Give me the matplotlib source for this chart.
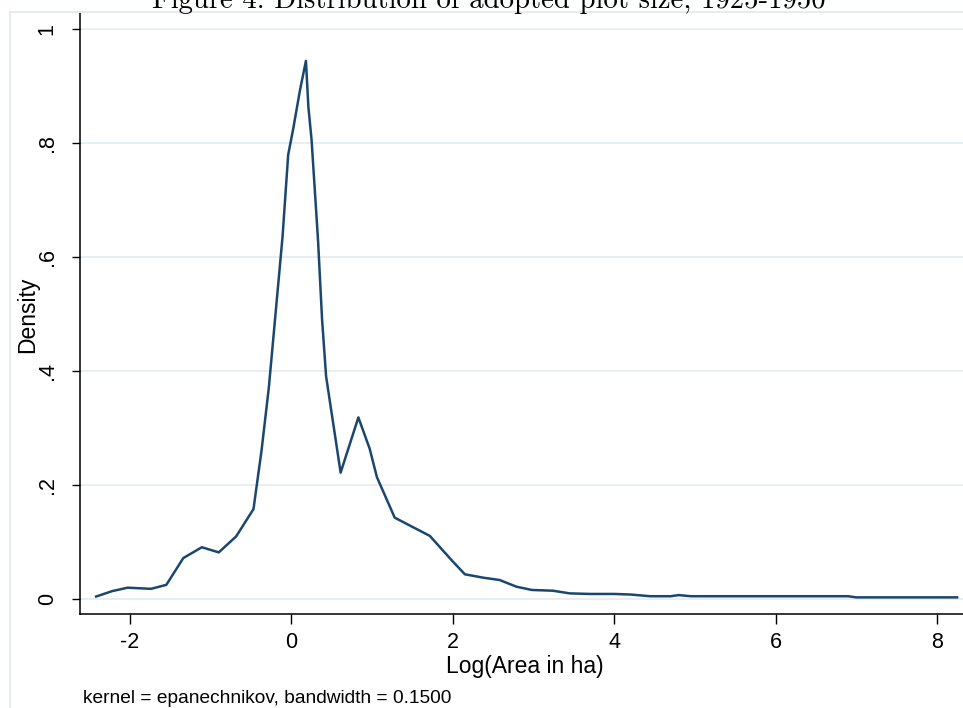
import numpy as np
import matplotlib.pyplot as plt
from matplotlib.lines import Line2D

# kernel density estimate
log_area = [-2.42, -2.22, -2.03, -1.74, -1.55, -1.34, -1.11, -0.90, -0.685, -0.47,
            -0.37, -0.28, -0.11, -0.04, 0.024, 0.107, 0.18, 0.21, 0.25, 0.33,
            0.38, 0.43, 0.61, 0.83, 0.97, 1.06, 1.28, 1.51, 1.715, 2.0,
            2.15, 2.38, 2.58, 2.79, 2.98, 3.24, 3.45, 3.7, 4.0, 4.2,
            4.45, 4.7, 4.8, 4.95, 5.5, 6.0, 6.5, 6.9, 7.0, 7.5,
            8.0, 8.25]
density = [0.0035, 0.013, 0.019, 0.017, 0.024, 0.071, 0.090, 0.081, 0.109, 0.157,
           0.26, 0.37, 0.635, 0.779, 0.826, 0.893, 0.944, 0.864, 0.805, 0.629,
           0.49, 0.39, 0.221, 0.318, 0.263, 0.213, 0.142, 0.125, 0.110, 0.065,
           0.0425, 0.0365, 0.0325, 0.0207, 0.015, 0.0137, 0.009, 0.008, 0.008, 0.007,
           0.004, 0.004, 0.006, 0.004, 0.004, 0.004, 0.004, 0.004, 0.002, 0.002,
           0.002, 0.002]

yticks = [0, 0.2, 0.4, 0.6, 0.8, 1.0]
ytick_labels = ["0", ".2", ".4", ".6", ".8", "1"]
xticks = [-2, 0, 2, 4, 6, 8]

W, H = 963, 708
plt.rcParams['font.family'] = ['Liberation Sans', 'DejaVu Sans']

fig = plt.figure(figsize=(W / 100, H / 100), dpi=100)
ax = fig.add_axes([80 / W, 1 - 614 / H, 890 / W, 601 / H])

# graph region border (only left and top visible in the crop)
border = '#e3ebef'
fig.add_artist(Line2D([10 / W, 10 / W], [0, 1 - 12 / H], transform=fig.transFigure,
                      color=border, lw=1.3))
fig.add_artist(Line2D([10 / W, 1], [1 - 12 / H, 1 - 12 / H], transform=fig.transFigure,
                      color=border, lw=1.3))

for yv in yticks:
    ax.axhline(yv, color='#e6edf0', lw=1.3, zorder=0)

ax.plot(log_area, density, color='#1a476f', lw=1.8, zorder=3)

ax.set_xlim(-2.62, 8.41)
ax.set_ylim(-0.0272, 1.028)
ax.set_xticks(xticks)
ax.set_xticklabels([str(v) for v in xticks])
ax.set_yticks(yticks)
ax.set_yticklabels(ytick_labels, rotation=90, va='center')

for side in ('top', 'right'):
    ax.spines[side].set_visible(False)
for side in ('left', 'bottom'):
    ax.spines[side].set_linewidth(1.1)
ax.tick_params(axis='x', length=7, width=1, labelsize=15.5, pad=6)
ax.tick_params(axis='y', length=6, width=1, labelsize=15.5, pad=10)

ax.set_xlabel("Log(Area in ha)", fontsize=16.5, va='center')
ax.xaxis.set_label_coords(525 / W, 1 - 667 / H, transform=fig.transFigure)
ax.set_ylabel("Density", fontsize=16.5, va='center')
ax.yaxis.set_label_coords(28 / W, 1 - 315 / H, transform=fig.transFigure)

fig.text(83 / W, 1 - 703 / H, "kernel = epanechnikov, bandwidth = 0.1500",
         fontsize=13.8, ha='left', va='baseline')

# caption from the surrounding document, cut by the crop
fig.text(489 / W, 1 - 8 / H, "Figure 4: Distribution of adopted plot size, 1925-1950",
         fontsize=20.7, family='cmr10', ha='center', va='baseline')

fig.savefig("out.png", dpi=100, facecolor='white')
